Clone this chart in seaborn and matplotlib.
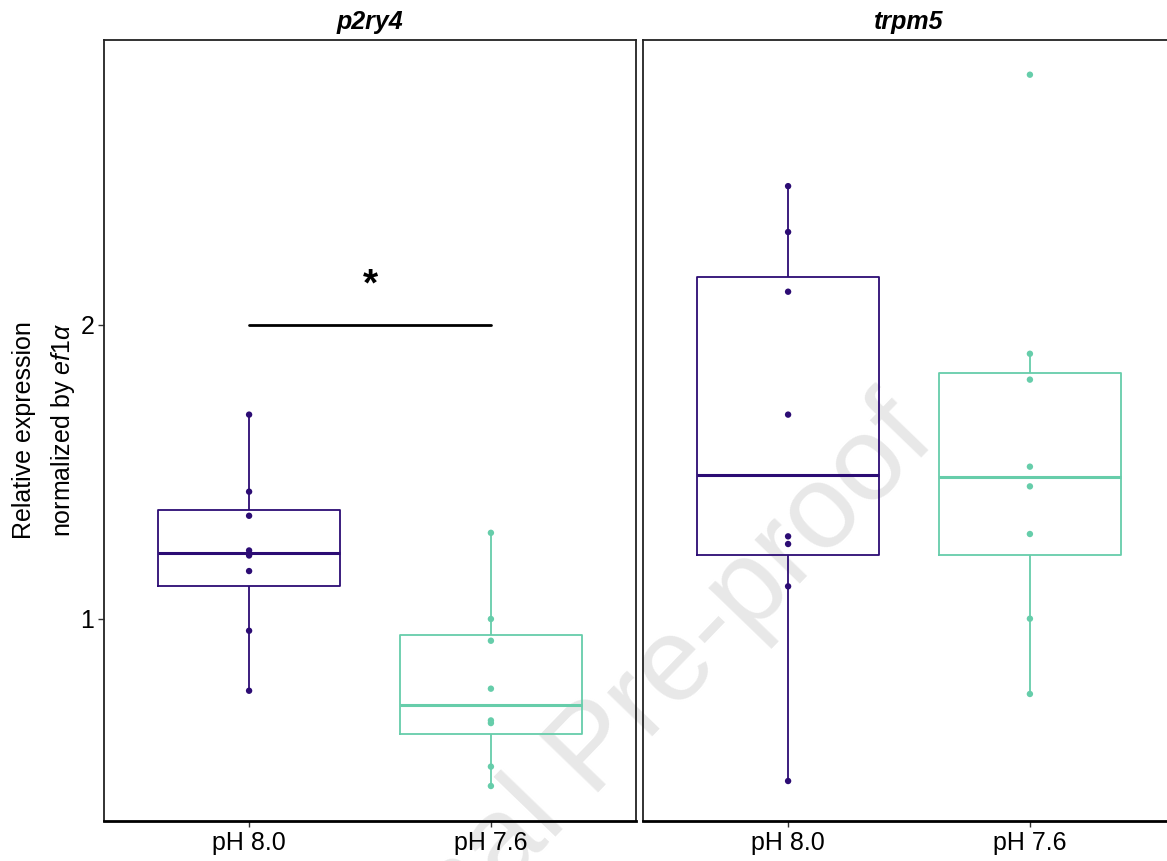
import matplotlib
matplotlib.use("Agg")
import matplotlib.pyplot as plt
import seaborn as sns
import pandas as pd

# ---- data ----
genes = ["p2ry4", "trpm5"]
conditions = ["pH 8.0", "pH 7.6"]
p2ry4_ph80 = [1.695, 1.433, 1.351, 1.233, 1.216, 1.163, 0.960, 0.756]
p2ry4_ph76 = [1.293, 1.000, 0.926, 0.763, 0.655, 0.646, 0.498, 0.432]
trpm5_ph80 = [2.472, 2.316, 2.113, 1.695, 1.281, 1.255, 1.111, 0.449]
trpm5_ph76 = [2.851, 1.902, 1.814, 1.518, 1.451, 1.289, 1.001, 0.745]
y_ticks = [1, 2]
y_tick_labels = ["1", "2"]
signif_y = 2.0
signif_label = "*"

rows = []
for gene, cond, vals in [("p2ry4", "pH 8.0", p2ry4_ph80), ("p2ry4", "pH 7.6", p2ry4_ph76),
                         ("trpm5", "pH 8.0", trpm5_ph80), ("trpm5", "pH 7.6", trpm5_ph76)]:
    for v in vals:
        rows.append({"gene": gene, "condition": cond, "value": v})
df = pd.DataFrame(rows)

palette = {"pH 8.0": "#2C0C74", "pH 7.6": "#66CDAA"}

sns.set_theme(style="white")
plt.rcParams["font.family"] = ["Liberation Sans", "DejaVu Sans"]
plt.rcParams["mathtext.fontset"] = "custom"
plt.rcParams["mathtext.it"] = "Liberation Sans:italic"
plt.rcParams["mathtext.rm"] = "Liberation Sans"

W, H = 1167, 861
fig = plt.figure(figsize=(W / 100, H / 100), dpi=100)
fig.patch.set_facecolor("white")

ax_w = 532 / W
ax_b = 1 - 821 / H
ax_h = 781 / H
ax1 = fig.add_axes([104 / W, ax_b, ax_w, ax_h])
ax2 = fig.add_axes([643 / W, ax_b, ax_w, ax_h])
axes = [ax1, ax2]

# watermark (behind everything)
fig.text(595 / W, 1 - 752 / H, "Journal Pre-proof", rotation=46, rotation_mode="anchor",
         ha="center", va="center", fontsize=86, color="#e8e8e8", zorder=-1)

for ax, gene in zip(axes, genes):
    ax.set_facecolor("none")
    sub = df[df["gene"] == gene]
    sns.boxplot(data=sub, x="condition", y="value", hue="condition", order=conditions,
                hue_order=conditions, palette=palette, fill=False, width=0.75,
                linewidth=1.3, whis=1.5, showcaps=False, showfliers=False,
                medianprops={"linewidth": 2.2}, legend=False, ax=ax)
    sns.stripplot(data=sub, x="condition", y="value", hue="condition", order=conditions,
                  hue_order=conditions, palette=palette, jitter=False, size=4.6,
                  linewidth=0, legend=False, ax=ax, zorder=4)
    ax.set_xlim(-0.6, 1.6)
    ax.set_ylim(0.313, 2.969)
    ax.set_xlabel("")
    ax.set_ylabel("")
    ax.set_title(gene, fontstyle="italic", fontweight="bold", fontsize=18, pad=8,
                 color="black")
    for s in ["left", "right", "top"]:
        ax.spines[s].set_color("#222222")
        ax.spines[s].set_linewidth(1.3)
    ax.spines["bottom"].set_color("black")
    ax.spines["bottom"].set_linewidth(2.0)
    ax.tick_params(axis="x", length=4, width=1, color="#333333", labelsize=18, pad=3,
                   labelcolor="black", bottom=True)
    ax.set_yticks(y_ticks)
    ax.set_yticklabels(y_tick_labels)
    ax.tick_params(axis="y", length=4, width=1, color="#333333", labelsize=18, pad=3,
                   labelcolor="black", left=True)

ax2.tick_params(axis="y", left=False, labelleft=False)

# significance bar on p2ry4
ax1.plot([0, 1], [signif_y, signif_y], color="black", linewidth=2.0, zorder=5)
ax1.text(0.5, 2.10, signif_label, ha="center", va="baseline", fontsize=28,
         fontweight="bold", color="black")

# y label (two lines, second with italic gene name)
fig.text(24 / W, 1 - 430 / H, "Relative expression", rotation=90, ha="center",
         va="center", fontsize=18, color="black")
fig.text(63 / W, 1 - 430 / H, r"normalized by $\mathit{ef1α}$", rotation=90,
         ha="center", va="center", fontsize=18, color="black")

fig.savefig("out.png", dpi=100, facecolor="white")
